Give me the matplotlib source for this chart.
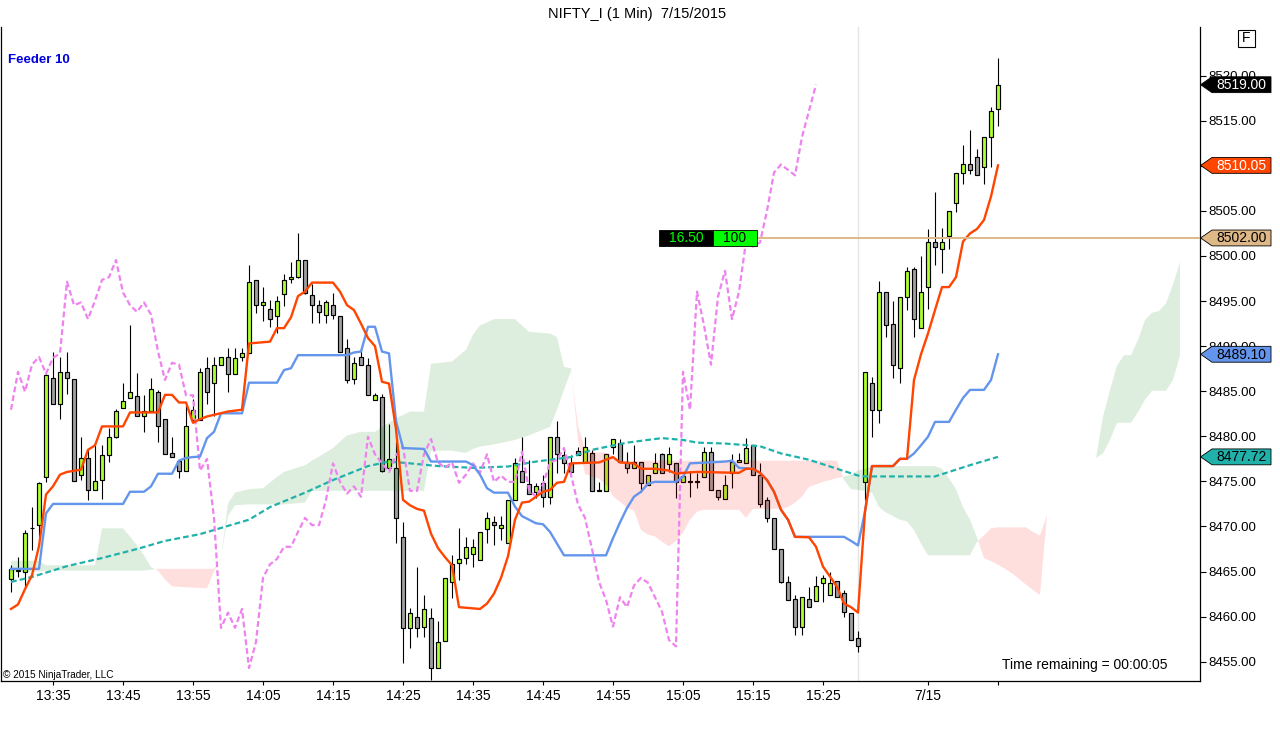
import numpy as np
import matplotlib
matplotlib.use('Agg')
import matplotlib.pyplot as plt
from matplotlib.patches import Polygon, Rectangle

plt.rcParams['font.family'] = ['Liberation Sans', 'DejaVu Sans']

# 1 minute bars: 7/14 from 13:29 to 15:30, then the 7/15 open
opens = [8464.2, 8465.1, 8465.0, 8469.8, 8470.15, 8475.5, 8486.45, 8483.55, 8487.15, 8486.35,
         8475.75, 8477.6, 8474.05, 8475.15, 8477.9, 8479.95, 8483.15, 8484.25, 8484.45, 8482.2,
         8482.85, 8484.95, 8481.9, 8478.2, 8477.3, 8476.2, 8481.8, 8481.8, 8487.55, 8485.95,
         8487.95, 8488.8, 8486.95, 8488.8, 8489.2, 8497.35, 8494.55, 8494.1, 8493.3, 8495.75,
         8497.45, 8497.7, 8499.55, 8495.65, 8494.55, 8493.5, 8494.55, 8493.4, 8489.8, 8486.35,
         8488.8, 8487.95, 8484.05, 8484.4, 8476.5, 8476.5, 8468.85, 8458.75, 8459.95, 8458.9,
         8459.85, 8454.3, 8457.3, 8463.85, 8465.9, 8466.5, 8466.9, 8466.3, 8469.7, 8470.45,
         8469.8, 8468.2, 8472.95, 8476.2, 8474.75, 8473.85, 8474.85, 8473.3, 8479.95, 8477.9,
         8477.0, 8478.4, 8477.2, 8478.2, 8473.95, 8473.95, 8478.85, 8479.3, 8477.1, 8476.5,
         8477.1, 8474.65, 8475.95, 8478.0, 8476.9, 8477.0, 8474.95, 8474.95, 8474.95, 8475.5,
         8478.3, 8474.05, 8473.05, 8475.95, 8477.1, 8477.0, 8479.0, 8475.75, 8472.95, 8470.95,
         8467.5, 8463.85, 8461.95, 8458.9, 8461.95, 8461.75, 8463.75, 8462.35, 8463.95, 8462.65,
         8460.45, 8457.6, 8474.95, 8485.95, 8482.95, 8496.05, 8492.5, 8487.55, 8495.5, 8498.55,
         8492.0, 8496.6, 8501.5, 8500.8, 8502.2, 8505.9, 8509.25, 8510.15, 8511.0, 8509.9,
         8513.2, 8516.3]
highs = [8465.7, 8466.6, 8469.6, 8472.15, 8474.95, 8486.95, 8489.3, 8488.8, 8489.3, 8486.35,
         8479.95, 8478.5, 8479.0, 8479.0, 8480.9, 8483.05, 8485.95, 8492.3, 8487.05, 8484.55,
         8486.45, 8485.15, 8481.9, 8479.95, 8477.3, 8483.45, 8484.15, 8487.55, 8488.8, 8488.8,
         8488.8, 8489.8, 8489.8, 8489.8, 8499.05, 8497.35, 8496.6, 8495.15, 8495.55, 8498.05,
         8499.35, 8502.6, 8499.55, 8496.85, 8495.15, 8495.15, 8495.95, 8493.4, 8490.8, 8488.8,
         8489.7, 8488.7, 8484.75, 8484.65, 8481.4, 8479.4, 8470.55, 8460.95, 8465.55, 8462.35,
         8460.95, 8459.55, 8464.3, 8466.8, 8469.8, 8468.85, 8468.6, 8469.4, 8471.65, 8471.15,
         8471.15, 8472.95, 8477.6, 8479.95, 8477.4, 8474.85, 8475.75, 8479.95, 8481.7, 8478.5,
         8477.9, 8478.85, 8479.95, 8478.5, 8474.95, 8478.0, 8479.7, 8479.7, 8478.3, 8479.0,
         8477.1, 8475.75, 8478.2, 8478.2, 8478.85, 8477.0, 8475.65, 8476.1, 8475.95, 8478.85,
         8478.85, 8474.05, 8475.75, 8478.0, 8478.2, 8479.8, 8479.0, 8477.0, 8473.3, 8470.95,
         8467.5, 8464.5, 8462.35, 8462.15, 8463.3, 8464.5, 8464.6, 8464.9, 8463.95, 8462.95,
         8460.45, 8458.45, 8487.15, 8486.6, 8497.25, 8496.05, 8495.05, 8495.5, 8498.8, 8498.8,
         8500.05, 8503.0, 8507.15, 8503.1, 8505.0, 8509.25, 8512.35, 8514.0, 8511.85, 8513.2,
         8516.55, 8521.95]
lows = [8462.75, 8464.4, 8463.15, 8467.4, 8468.85, 8474.95, 8483.55, 8481.9, 8484.65, 8475.05,
        8475.15, 8472.95, 8474.05, 8473.05, 8477.2, 8479.8, 8483.15, 8484.25, 8482.3, 8480.5,
        8482.85, 8479.4, 8478.0, 8477.75, 8475.35, 8476.2, 8481.8, 8481.8, 8483.55, 8482.2,
        8487.95, 8484.95, 8486.95, 8488.3, 8489.2, 8493.7, 8492.8, 8492.15, 8491.5, 8494.4,
        8497.05, 8497.55, 8495.75, 8492.6, 8492.6, 8492.6, 8493.0, 8489.4, 8485.95, 8485.75,
        8487.95, 8484.55, 8484.05, 8476.05, 8476.5, 8468.2, 8454.9, 8456.5, 8457.75, 8457.75,
        8453.0, 8454.3, 8457.3, 8462.05, 8464.1, 8465.8, 8465.55, 8466.3, 8468.2, 8467.9,
        8468.5, 8468.2, 8472.95, 8474.95, 8473.65, 8473.15, 8472.2, 8472.45, 8475.95, 8475.95,
        8476.05, 8477.9, 8477.2, 8473.95, 8473.95, 8473.95, 8478.0, 8477.1, 8475.95, 8476.5,
        8473.85, 8474.65, 8475.95, 8475.95, 8476.05, 8473.15, 8474.95, 8473.3, 8474.25, 8475.5,
        8474.05, 8472.95, 8473.05, 8474.25, 8477.1, 8477.0, 8475.75, 8472.2, 8470.55, 8467.5,
        8463.75, 8461.85, 8457.95, 8457.95, 8461.05, 8461.75, 8461.65, 8462.35, 8462.15, 8459.95,
        8457.4, 8456.05, 8472.95, 8479.95, 8481.5, 8491.05, 8486.45, 8485.95, 8494.0, 8491.05,
        8492.0, 8494.1, 8498.95, 8498.15, 8500.8, 8504.9, 8507.95, 8509.05, 8508.95, 8507.95,
        8509.9, 8514.45]
closes = [8465.3, 8465.1, 8469.3, 8469.8, 8474.85, 8486.85, 8483.55, 8487.15, 8486.45, 8475.05,
          8477.6, 8474.05, 8475.05, 8477.9, 8479.95, 8482.85, 8483.95, 8484.95, 8482.3, 8482.85,
          8485.25, 8481.1, 8478.0, 8477.75, 8476.2, 8481.1, 8482.95, 8487.15, 8484.95, 8487.95,
          8488.8, 8486.95, 8488.7, 8489.2, 8497.15, 8494.55, 8494.85, 8493.0, 8495.05, 8497.35,
          8497.65, 8499.55, 8495.95, 8494.55, 8493.8, 8494.85, 8493.5, 8489.4, 8486.25, 8488.15,
          8487.95, 8484.55, 8484.55, 8476.2, 8477.5, 8470.95, 8458.75, 8460.45, 8458.75, 8460.85,
          8454.3, 8457.2, 8464.3, 8465.8, 8466.4, 8467.75, 8467.75, 8469.4, 8470.95, 8470.15,
          8470.15, 8472.95, 8477.0, 8474.95, 8473.65, 8474.45, 8473.3, 8479.95, 8478.0, 8477.0,
          8476.05, 8477.9, 8478.85, 8473.95, 8473.95, 8478.0, 8479.7, 8477.1, 8476.5, 8477.1,
          8474.85, 8475.75, 8477.0, 8475.95, 8478.0, 8474.95, 8475.65, 8474.95, 8474.95, 8478.3,
          8474.05, 8473.3, 8474.65, 8477.1, 8477.4, 8478.7, 8475.75, 8472.45, 8470.95, 8467.5,
          8463.85, 8461.85, 8458.9, 8462.15, 8461.05, 8463.45, 8464.3, 8463.75, 8462.15, 8460.55,
          8457.4, 8456.7, 8487.15, 8482.95, 8496.05, 8492.3, 8487.95, 8495.5, 8498.35, 8493.0,
          8496.05, 8501.6, 8501.05, 8501.5, 8505.0, 8509.25, 8510.15, 8509.55, 8508.95, 8513.2,
          8516.1, 8519.0]

# conversion line (orange), break points
tenkan_bars = [0, 1, 2, 3, 4, 5, 6, 7, 8, 10, 11, 12, 13, 16, 17, 21, 22, 23, 24, 25,
               26, 27, 28, 31, 33, 34, 37, 38, 39, 40, 41, 42, 43, 46, 47, 48, 49, 50, 51, 52,
               53, 54, 55, 56, 57, 58, 59, 60, 61, 62, 63, 64, 67, 68, 69, 70, 71, 72, 73, 74,
               75, 76, 77, 78, 79, 80, 84, 86, 87, 89, 90, 92, 94, 95, 96, 98, 104, 105, 106, 107,
               108, 109, 110, 111, 112, 114, 115, 116, 117, 118, 119, 120, 121, 122, 123, 126, 127, 128, 129, 130,
               131, 132, 133, 134, 135, 136, 137, 138, 139, 140, 141]
tenkan_vals = [8460.85, 8461.35, 8463.05, 8464.6, 8467.8, 8473.55, 8474.45, 8475.75, 8476.05, 8476.3,
               8478.5, 8479.0, 8481.1, 8481.1, 8482.65, 8482.65, 8484.6, 8484.6, 8483.75, 8483.75,
               8481.5, 8481.9, 8482.2, 8482.75, 8482.95, 8490.3, 8490.5, 8492.0, 8492.0, 8493.2,
               8495.55, 8496.05, 8497.05, 8497.05, 8496.05, 8494.55, 8494.0, 8492.5, 8490.9, 8490.0,
               8486.05, 8485.85, 8480.8, 8472.95, 8472.35, 8471.95, 8471.75, 8469.2, 8467.6, 8466.6,
               8465.7, 8461.05, 8460.85, 8461.45, 8462.55, 8464.3, 8466.7, 8470.75, 8472.65, 8472.75,
               8473.3, 8473.85, 8474.05, 8474.85, 8474.95, 8477.0, 8477.1, 8477.7, 8477.1, 8477.0,
               8476.4, 8476.4, 8476.2, 8475.85, 8475.95, 8476.05, 8475.95, 8476.4, 8476.4, 8475.95,
               8475.15, 8473.85, 8471.85, 8470.75, 8468.85, 8468.8, 8467.75, 8465.55, 8464.45, 8463.3,
               8461.45, 8461.05, 8460.45, 8471.65, 8476.7, 8476.7, 8477.5, 8477.5, 8486.25, 8489.1,
               8491.4, 8494.0, 8496.55, 8496.55, 8497.65, 8501.6, 8502.5, 8503.0, 8504.0, 8506.6,
               8510.05]

# base line (blue)
kijun_bars = [0, 4, 5, 6, 16, 17, 19, 20, 21, 23, 24, 25, 26, 27, 28, 29, 30, 33, 34, 38,
              39, 40, 41, 48, 49, 50, 51, 52, 53, 54, 55, 56, 59, 60, 65, 66, 67, 68, 69, 71,
              72, 73, 75, 76, 77, 78, 79, 85, 86, 87, 88, 89, 90, 91, 92, 95, 96, 97, 102, 103,
              104, 106, 107, 108, 109, 110, 111, 112, 119, 120, 121, 122, 123, 126, 127, 128, 129, 130, 131, 132,
              134, 135, 136, 137, 139, 140, 141]
kijun_vals = [8465.3, 8465.3, 8471.45, 8472.5, 8472.5, 8473.85, 8473.85, 8474.45, 8475.85, 8475.85,
              8477.3, 8477.6, 8477.7, 8477.75, 8479.8, 8480.5, 8482.55, 8482.55, 8485.95, 8485.95,
              8487.35, 8487.55, 8489.0, 8489.0, 8489.3, 8489.4, 8492.15, 8492.15, 8489.4, 8489.2,
              8481.7, 8478.7, 8478.6, 8477.2, 8477.2, 8476.8, 8475.75, 8474.25, 8473.75, 8473.75,
              8472.2, 8471.15, 8470.35, 8470.25, 8469.4, 8468.1, 8466.8, 8466.8, 8468.7, 8470.45,
              8472.05, 8473.3, 8473.85, 8474.75, 8474.95, 8474.95, 8475.5, 8477.0, 8477.2, 8477.3,
              8476.5, 8476.4, 8475.95, 8475.15, 8473.85, 8471.85, 8470.75, 8468.85, 8468.85, 8468.4,
              8467.9, 8471.65, 8476.7, 8476.7, 8477.5, 8477.5, 8478.1, 8479.0, 8479.95, 8481.6,
              8481.6, 8482.95, 8484.25, 8485.15, 8485.15, 8486.25, 8489.1]

# slow average (teal dashed)
avg_bars = [0, 3, 8, 13, 18, 22, 27, 34, 37, 42, 46, 51, 54, 57, 61, 66, 71, 75, 80, 83,
            88, 93, 96, 98, 102, 107, 110, 114, 118, 121, 122, 132, 134, 137, 141]
avg_vals = [8463.85, 8464.4, 8465.6, 8466.5, 8467.5, 8468.4, 8469.15, 8470.75, 8472.15, 8473.75,
            8475.15, 8476.7, 8477.2, 8477.0, 8476.7, 8476.5, 8476.65, 8477.2, 8477.7, 8478.5,
            8479.3, 8479.8, 8479.6, 8479.3, 8479.2, 8478.9, 8478.1, 8477.4, 8476.4, 8475.65,
            8475.55, 8475.55, 8476.05, 8476.8, 8477.72]

# lagging span = close drawn this many bars back
lag = 26

# cloud, spans A and B at bar positions (nan = no cloud drawn)
cloud_bars = [0, 4, 5, 12, 13, 16, 17, 18, 19, 20, 21, 22, 23, 25, 28, 29, 30, 31, 32, 34,
              36, 38, 39, 42, 43, 44, 46, 48, 50, 52, 55, 57, 59, 60, 63, 65, 66, 67, 69, 72,
              74, 77, 78, 79, 80, 81, 82, 83, 84, 85, 86, 87, 88, 89, 90, 91, 92, 93, 94, 95,
              96, 97, 98, 99, 104, 105, 106, 110, 111, 112, 113, 114, 115, 116, 117, 118, 119, 120, 121, 122,
              123, 124, 125, 127, 128, 129, 130, 131, 132, 133, 134, 135, 136, 137, 138, 139, 140, 141, 142, 143,
              144, 145, 146, 147, 148, 151, 155, 156, 157, 158, 159, 160, 161, 162, 163, 164, 165, 166, 167]
span_a = [8466.2, 8466.2, 8465.7, 8465.7, 8469.8, 8469.8, 8468.9, 8467.9, 8466.8, 8465.5,
          8465.1, 8464.1, 8463.35, 8463.25, 8463.15, 8465.0, 8466.5, 8472.55, 8473.75, 8474.15,
          8474.25, 8475.5, 8476.05, 8476.8, 8477.3, 8477.75, 8478.7, 8480.1, 8480.5, 8480.5,
          8482.0, 8482.75, 8482.75, 8488.05, 8488.3, 8489.6, 8491.3, 8492.3, 8493.0, 8493.0,
          8491.6, 8491.4, 8491.0, 8487.7, 8487.55, 8479.6, 8475.85, 8475.55, 8475.3, 8474.65,
          8473.35, 8472.75, 8472.05, 8471.75, 8469.6, 8469.1, 8468.9, 8468.3, 8467.8, 8468.4,
          8469.3, 8470.75, 8471.65, 8471.85, 8471.85, 8470.95, 8471.95, 8471.95, 8472.15, 8472.65,
          8473.3, 8474.4, 8474.65, 8474.95, 8475.15, 8475.35, 8475.55, 8475.75, 8476.2, 8476.4,
          8476.6, 8476.8, 8476.7, 8476.7, 8476.7, 8476.7, 8476.7, 8476.7, 8476.7, 8476.4,
          8475.35, 8474.15, 8472.15, 8470.75, 8468.8, 8466.5, 8466.15, 8465.75, 8465.3, 8464.8,
          8464.2, 8463.55, 8462.95, 8462.4, 8471.25, np.nan, 8477.6, 8482.2, 8485.15, 8487.85,
          8489.0, 8489.0, 8490.7, 8492.9, 8493.7, 8493.9, 8494.75, 8496.85, 8499.35]
span_b = [8465.0, 8465.0, 8465.1, 8465.1, 8465.1, 8465.1, 8465.1, 8465.1, 8465.1, 8465.2,
          8465.3, 8465.3, 8465.3, 8465.3, 8465.3, 8465.3, 8466.5, 8471.15, 8472.35, 8472.45,
          8472.45, 8472.45, 8472.45, 8472.65, 8473.95, 8473.95, 8473.95, 8473.95, 8473.95, 8473.95,
          8473.95, 8473.95, 8473.95, 8478.4, 8478.4, 8478.15, 8478.6, 8478.85, 8479.1, 8479.6,
          8480.1, 8481.05, 8482.95, 8485.15, 8487.25, 8481.2, 8478.5, 8478.2, 8478.2, 8478.2,
          8477.8, 8477.3, 8477.3, 8477.3, 8477.3, 8477.3, 8477.3, 8477.3, 8477.3, 8477.3,
          8477.3, 8477.3, 8477.3, 8477.3, 8477.3, 8477.3, 8477.3, 8477.3, 8477.3, 8477.3,
          8477.3, 8477.3, 8477.3, 8477.3, 8477.3, 8477.3, 8475.15, 8474.15, 8474.05, 8473.95,
          8473.75, 8472.15, 8471.55, 8470.75, 8470.55, 8469.6, 8468.1, 8466.8, 8466.8, 8466.8,
          8466.8, 8466.8, 8466.8, 8466.8, 8468.3, 8469.0, 8469.8, 8469.9, 8469.9, 8469.9,
          8469.9, 8469.9, 8469.4, 8469.0, 8471.25, np.nan, 8477.6, 8478.1, 8479.6, 8481.5,
          8481.5, 8481.5, 8482.7, 8484.05, 8485.05, 8485.05, 8485.05, 8486.25, 8488.95]

tick_bars = [6, 16, 26, 36, 46, 56, 66, 76, 86, 96, 106, 116, 131, 141]
tick_labels = ['13:35', '13:45', '13:55', '14:05', '14:15', '14:25', '14:35', '14:45',
               '14:55', '15:05', '15:15', '15:25', '7/15', '']
price_ticks = [8455, 8460, 8465, 8470, 8475, 8480, 8485, 8490, 8495, 8500, 8505, 8510, 8515, 8520]
hidden_ticks = [8510]   # sits fully under the 8510.05 tag
session_break = 121

# right side price markers: value, fill, text colour
markers = [(8519.00, 'black', 'white'),
           (8510.05, '#FF4500', 'white'),
           (8502.00, '#DEB887', 'black'),
           (8489.10, '#6495ED', 'black'),
           (8477.72, '#20B2AA', 'black')]
order_price = 8502.00
order_pnl = '16.50'
order_qty = '100'

bars = np.arange(len(closes))
o = np.array(opens)
c = np.array(closes)
h = np.array(highs)
l = np.array(lows)

fig = plt.figure(figsize=(12.8, 7.43), dpi=100)
ax = fig.add_axes([1 / 1280, 62 / 743, 1199 / 1280, 654 / 743])
ax.set_xlim(-10 / 7, 1189 / 7)
ax.set_ylim(8452.86, 8525.40)

ax.axvline(session_break, color='#E4E4E4', lw=1, zorder=0.5)

# candles
up_col = '#ADFF2F'
dn_col = '#A0A0A0'
body_col = [up_col if cc > oo else dn_col for oo, cc in zip(o, c)]
ax.vlines(bars, l, h, color='black', lw=0.8, zorder=1.8)
ax.bar(bars, np.maximum(np.abs(c - o), 0.06), bottom=np.minimum(o, c), width=0.7,
       color=body_col, edgecolor='black', linewidth=0.85, zorder=2)

# cloud on top of the candles
cb = np.array(cloud_bars, dtype=float)
sa = np.array(span_a)
sb = np.array(span_b)
ax.fill_between(cb, sa, sb, where=sa >= sb, interpolate=True, color='green', alpha=0.13,
                lw=0, zorder=3)
ax.fill_between(cb, sa, sb, where=sa <= sb, interpolate=True, color='red', alpha=0.13,
                lw=0, zorder=3)

# indicator lines
ax.plot(avg_bars, avg_vals, color='#20B2AA', lw=1.6, dashes=(2.6, 1.4), zorder=4)
ax.plot(bars[:-lag], c[lag:], color='#EE82EE', lw=1.6, dashes=(2.6, 1.4), zorder=4)
ax.plot(kijun_bars, kijun_vals, color='#6495ED', lw=1.7, zorder=4.2)
ax.plot(tenkan_bars, tenkan_vals, color='#FF4500', lw=1.7, zorder=4.3)

# order line with its labels
ax.axhline(order_price, xmin=756 / 1199, xmax=1, color='#DEB887', lw=1.4, zorder=5)
ytr = ax.get_yaxis_transform()
ax.add_patch(Rectangle((658 / 1199, order_price - 0.93), 54 / 1199, 1.86, transform=ytr,
                       fc='black', ec='black', lw=0.6, zorder=6))
ax.add_patch(Rectangle((712 / 1199, order_price - 0.93), 44 / 1199, 1.86, transform=ytr,
                       fc='#00FF00', ec='black', lw=0.6, zorder=6))
ax.text(685 / 1199, order_price - 0.05, order_pnl, transform=ytr, ha='center', va='center',
        color='#00FF00', fontsize=10, zorder=7)
ax.text(734 / 1199, order_price - 0.05, order_qty, transform=ytr, ha='center', va='center',
        color='black', fontsize=10, zorder=7)

# axes look
ax.spines['top'].set_visible(False)
for side in ['left', 'bottom', 'right']:
    ax.spines[side].set_linewidth(0.9)
ax.yaxis.tick_right()
ax.set_yticks(price_ticks, ['' if v in hidden_ticks else f'{v:.2f}' for v in price_ticks])
ax.tick_params(axis='y', direction='out', length=4.3, width=0.8, pad=1.5, labelsize=9.5)
ax.set_xticks(tick_bars, tick_labels)
ax.tick_params(axis='x', direction='out', length=3, width=0.8, pad=3, labelsize=10)

# price tags on the scale
half = 0.88
x_tip = 1.0005
x_shoulder = 1211 / 1199
x_end = 1270 / 1199
for price, face, txt in markers:
    tag = Polygon([(x_tip, price), (x_shoulder, price + half), (x_end, price + half),
                   (x_end, price - half), (x_shoulder, price - half)], closed=True,
                  transform=ytr, fc=face, ec='black', lw=0.6, clip_on=False, zorder=10)
    ax.add_patch(tag)
    ax.text((x_shoulder + x_end) / 2, price - 0.05, f'{price:.2f}', transform=ytr,
            ha='center', va='center', color=txt, fontsize=10, clip_on=False, zorder=11)

# texts
fig.text(637 / 1280, 1 - 14 / 743, 'NIFTY_I (1 Min)  7/15/2015', ha='center', va='center',
         fontsize=10.5)
ax.text(7 / 1199, (681 - 60) / 654, 'Feeder 10', transform=ax.transAxes, ha='left',
        va='center', color='#0000DD', fontsize=9.5, fontweight='bold')
ax.text(2 / 1199, (681 - 675) / 654, '\u00a9 2015 NinjaTrader, LLC', transform=ax.transAxes,
        ha='left', va='center', fontsize=7.2)
ax.text(1166 / 1199, (681 - 665) / 654, 'Time remaining = 00:00:05', transform=ax.transAxes,
        ha='right', va='center', fontsize=10)

fig.patches.append(Rectangle((1238 / 1280, 1 - 47 / 743), 17 / 1280, 17 / 743,
                             transform=fig.transFigure, fill=False, ec='black', lw=0.8))
fig.text(1246.5 / 1280, 1 - 38.5 / 743, 'F', ha='center', va='center', fontsize=10)

fig.savefig('out.png', dpi=100, facecolor='white')
